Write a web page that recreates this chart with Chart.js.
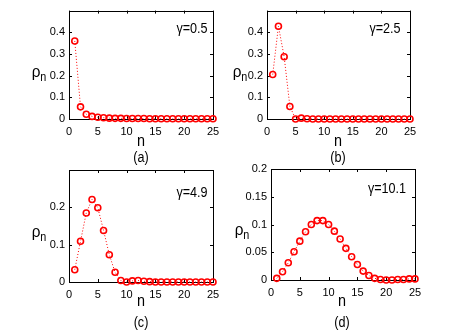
<!DOCTYPE html>
<html>
<head>
<meta charset="UTF-8">
<title>rho_n panels</title>
<style>
  body { margin: 0; background: #fff; }
  #wrap { position: relative; width: 457px; height: 332px; overflow: hidden; font-family: 'Liberation Sans', Arial, sans-serif; }
  canvas { position: absolute; left: 0; top: 0; }
  .lab { position: absolute; transform: translate(-50%, -50%) scaleX(0.9); white-space: nowrap; color: #000; line-height: 1; }
  .axn { font-size: 16px; }
  .cap { font-size: 14px; }
  .gam { font-size: 14px; }
  .rho { font-size: 17px; }
  .rho sub { font-size: 12px; vertical-align: -4px; }
</style>
</head>
<body>
<div id="wrap">
  <canvas id="ca" width="457" height="332"></canvas>
  <canvas id="cb" width="457" height="332"></canvas>
  <canvas id="cc" width="457" height="332"></canvas>
  <canvas id="cd" width="457" height="332"></canvas>

  <div class="lab rho" style="left:39px;top:73px">ρ<sub>n</sub></div>
  <div class="lab rho" style="left:240px;top:73px">ρ<sub>n</sub></div>
  <div class="lab rho" style="left:39px;top:233px">ρ<sub>n</sub></div>
  <div class="lab rho" style="left:242px;top:231px">ρ<sub>n</sub></div>

  <div class="lab axn" style="left:141px;top:141px">n</div>
  <div class="lab axn" style="left:338px;top:141px">n</div>
  <div class="lab axn" style="left:141px;top:301px">n</div>
  <div class="lab axn" style="left:342px;top:301px">n</div>

  <div class="lab cap" style="left:141px;top:157px">(a)</div>
  <div class="lab cap" style="left:338px;top:157px">(b)</div>
  <div class="lab cap" style="left:141px;top:322px">(c)</div>
  <div class="lab cap" style="left:342px;top:322px">(d)</div>

  <div class="lab gam" style="left:192px;top:28px">γ=0.5</div>
  <div class="lab gam" style="left:385px;top:28px">γ=2.5</div>
  <div class="lab gam" style="left:192px;top:192px">γ=4.9</div>
  <div class="lab gam" style="left:387px;top:188px">γ=10.1</div>
</div>

<script src="https://cdn.jsdelivr.net/npm/chart.js"></script>
<script>
  // photon number n
  const nValues = [1,2,3,4,5,6,7,8,9,10,11,12,13,14,15,16,17,18,19,20,21,22,23,24,25];
  const xTicks = [0, 5, 10, 15, 20, 25];

  // rho_n for each gamma
  const rhoA = [0.360, 0.056, 0.022, 0.012, 0.008, 0.006, 0.004, 0.003, 0.003, 0.002, 0.002, 0.002, 0.002, 0.001, 0.001, 0.001, 0.001, 0.001, 0.001, 0.001, 0.001, 0.001, 0.001, 0.001, 0.001];
  const rhoB = [0.205, 0.428, 0.287, 0.058, 0.000, 0.004, 0.001, 0.000, 0.000, 0.000, 0.000, 0.000, 0.000, 0.000, 0.000, 0.000, 0.000, 0.000, 0.000, 0.000, 0.000, 0.000, 0.000, 0.000, 0.000];
  const rhoC = [0.033, 0.109, 0.185, 0.221, 0.199, 0.138, 0.073, 0.026, 0.004, 0.000, 0.003, 0.004, 0.002, 0.001, 0.000, 0.000, 0.000, 0.000, 0.000, 0.000, 0.000, 0.000, 0.000, 0.000, 0.000];
  const rhoD = [0.003, 0.015, 0.031, 0.051, 0.070, 0.087, 0.100, 0.107, 0.107, 0.100, 0.088, 0.074, 0.057, 0.042, 0.028, 0.016, 0.008, 0.003, 0.001, 0.000, 0.000, 0.001, 0.001, 0.002, 0.002];

  const yTicksA = [0, 0.1, 0.2, 0.3, 0.4];
  const yTicksC = [0, 0.1, 0.2];
  const yTicksD = [0, 0.05, 0.1, 0.15, 0.2];

  // box with inward tick marks, like the original plots
  const boxTicks = {
    id: 'boxTicks',
    beforeDatasetsDraw(chart) {
      const c = chart.ctx, a = chart.chartArea;
      const xs = chart.scales.x, ys = chart.scales.y;
      c.save();
      c.strokeStyle = '#000';
      c.lineWidth = 1;
      c.beginPath();
      xs.ticks.forEach(t => {
        const px = Math.round(xs.getPixelForValue(t.value)) + 0.5;
        c.moveTo(px, a.bottom); c.lineTo(px, a.bottom - 3);
        c.moveTo(px, a.top); c.lineTo(px, a.top + 3);
      });
      ys.ticks.forEach(t => {
        const py = Math.round(ys.getPixelForValue(t.value)) + 0.5;
        c.moveTo(a.left, py); c.lineTo(a.left + 3, py);
        c.moveTo(a.right, py); c.lineTo(a.right - 3, py);
      });
      c.stroke();
      c.strokeRect(Math.round(a.left) + 0.5, Math.round(a.top) + 0.5,
                   Math.round(a.right - a.left), Math.round(a.bottom - a.top));
      c.restore();
    }
  };

  function makePanel(id, values, yMax, yTicks, area) {
    const pts = values.map((v, i) => ({ x: nValues[i], y: v }));
    new Chart(document.getElementById(id), {
      type: 'line',
      data: {
        datasets: [{
          data: pts,
          borderColor: '#ff0000',
          borderWidth: 1,
          borderDash: [1, 2],
          pointStyle: 'circle',
          pointRadius: 3,
          pointBorderWidth: 1.6,
          pointBorderColor: '#ff0000',
          pointBackgroundColor: 'rgba(255,255,255,0)',
          tension: 0,
          clip: false
        }]
      },
      options: {
        responsive: false,
        animation: false,
        events: [],
        layout: {
          padding: { left: area.l - 30, top: area.t, right: 457 - area.r, bottom: 332 - area.b - 20 }
        },
        plugins: { legend: { display: false }, tooltip: { enabled: false } },
        scales: {
          x: {
            type: 'linear', min: 0, max: 25,
            afterFit(s) { s.height = 20; },
            afterBuildTicks(s) { s.ticks = xTicks.map(v => ({ value: v })); },
            grid: { display: false, drawTicks: false },
            border: { display: false },
            ticks: { color: '#000', padding: 6, font: { family: 'Liberation Sans', size: 11 }, autoSkip: false, maxRotation: 0 }
          },
          y: {
            type: 'linear', min: 0, max: yMax,
            afterFit(s) { s.width = 30; },
            afterBuildTicks(s) { s.ticks = yTicks.map(v => ({ value: v })); },
            grid: { display: false, drawTicks: false },
            border: { display: false },
            ticks: { color: '#000', padding: 4, font: { family: 'Liberation Sans', size: 11 }, autoSkip: false,
                     callback: v => String(Math.round(v * 100) / 100) }
          }
        }
      },
      plugins: [boxTicks]
    });
  }

  makePanel('ca', rhoA, 0.5, yTicksA, { l: 69, t: 7, r: 213, b: 119 });
  makePanel('cb', rhoB, 0.5, yTicksA, { l: 267, t: 7, r: 410, b: 119 });
  makePanel('cc', rhoC, 0.3, yTicksC, { l: 69, t: 170, r: 213, b: 282 });
  makePanel('cd', rhoD, 0.2, yTicksD, { l: 271, t: 169, r: 415, b: 280 });
</script>
</body>
</html>
